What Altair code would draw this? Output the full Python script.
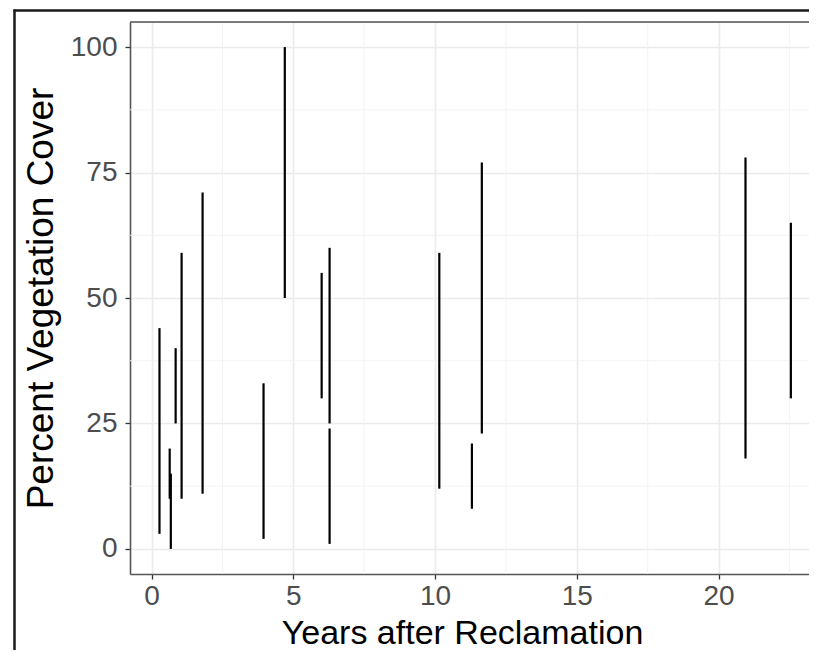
import altair as alt
import pandas as pd

# Data (years after reclamation, min/max % cover)
years = [0.28, 0.64, 0.68, 0.85, 1.06, 1.80, 3.95, 4.70, 6.00, 6.28, 6.28, 10.15, 11.30, 11.65, 20.95, 22.55]
cover_low = [3, 10, 0, 25, 10, 11, 2, 50, 30, 25, 1, 12, 8, 23, 18, 30]
cover_high = [44, 20, 15, 40, 59, 71, 33, 100, 55, 60, 24, 59, 21, 77, 78, 65]

x_major = [0, 5, 10, 15, 20]
y_major = [0, 25, 50, 75, 100]
x_minor = [2.5, 7.5, 12.5, 17.5, 22.5]
y_minor = [12.5, 37.5, 62.5, 87.5]

W, H = 679, 552
FONT = "Liberation Sans"

segs = pd.DataFrame({"year": years, "lo": cover_low, "hi": cover_high})

xs = alt.Scale(domain=[-0.76, 23.19], nice=False, zero=False)
ys = alt.Scale(domain=[-5, 105], nice=False, zero=False)

xaxis = alt.Axis(
    values=x_major,
    title="Years after Reclamation",
    titleFontSize=34,
    titleFont=FONT,
    titleFontWeight="normal",
    titleColor="black",
    titleX=332,
    titleY=69,
    titleBaseline="alphabetic",
    titleAlign="center",
    labelFontSize=28,
    labelFont=FONT,
    labelColor="#4D4D4D",
    labelBaseline="alphabetic",
    labelPadding=25,
    tickSize=5,
    tickColor="#333333",
    tickWidth=1.3,
    domainColor="#555555",
    domainWidth=1.6,
    grid=True,
    gridColor="#EBEBEB",
    gridWidth=1.6,
    labelFlush=False,
)
yaxis = alt.Axis(
    values=y_major,
    title="Percent Vegetation Cover",
    titleFontSize=37,
    titleFont=FONT,
    titleFontWeight="normal",
    titleColor="black",
    titleAngle=270,
    titleX=-78,
    titleY=276,
    titleBaseline="alphabetic",
    titleAlign="center",
    labelFontSize=28,
    labelFont=FONT,
    labelColor="#4D4D4D",
    labelBaseline="middle",
    labelPadding=8,
    tickSize=5,
    tickColor="#333333",
    tickWidth=1.3,
    domainColor="#555555",
    domainWidth=1.6,
    grid=True,
    gridColor="#EBEBEB",
    gridWidth=1.6,
    labelFlush=False,
)

xminor = alt.Chart(pd.DataFrame({"year": x_minor})).mark_rule(
    color="#F2F2F2", strokeWidth=0.9
).encode(x=alt.X("year:Q", scale=xs, axis=xaxis))

yminor = alt.Chart(pd.DataFrame({"lo": y_minor})).mark_rule(
    color="#F2F2F2", strokeWidth=0.9
).encode(y=alt.Y("lo:Q", scale=ys, axis=yaxis))

lines = alt.Chart(segs).mark_rule(color="black", strokeWidth=2.2).encode(
    x=alt.X("year:Q", scale=xs, axis=xaxis),
    y=alt.Y("lo:Q", scale=ys, axis=yaxis),
    y2="hi:Q",
)

# panel top border (panel continues past the right edge in the reference)
top_border = alt.Chart(pd.DataFrame({"a": [0]})).mark_rule(
    color="#555555", strokeWidth=1.6
).encode(x=alt.value(0), x2=alt.value(W), y=alt.value(0))

# outer figure frame (top and left edges visible)
frame_top = alt.Chart(pd.DataFrame({"a": [0]})).mark_rule(
    color="#1A1A1A", strokeWidth=2.5
).encode(x=alt.value(-116.5), x2=alt.value(W), y=alt.value(-11.5))
frame_left = alt.Chart(pd.DataFrame({"a": [0]})).mark_rule(
    color="#1A1A1A", strokeWidth=2.5
).encode(x=alt.value(-115.5), y=alt.value(-12.5), y2=alt.value(700))

chart = (
    alt.layer(xminor, yminor, lines, top_border, frame_top, frame_left)
    .properties(
        width=W,
        height=H,
        autosize=alt.AutoSizeParams(type="none"),
        padding={"left": 122, "top": 14, "right": 0, "bottom": 76},
    )
    .configure_view(stroke=None)
    .configure(background="white")
)

chart.save("out.html", embed_options={"renderer": "svg", "actions": False})
